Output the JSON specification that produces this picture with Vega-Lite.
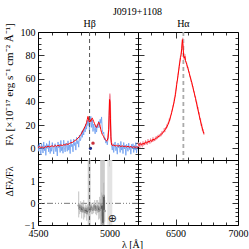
{
"$schema":"https://vega.github.io/schema/vega-lite/v6.json",
"padding":{"left":2,"top":6,"right":0,"bottom":0},
"title":{"text":"J0919+1108","font":"Liberation Serif","fontSize":10,"fontWeight":"normal","anchor":"middle","dx":12,"offset":2,"color":"#000"},
"resolve":{"scale":{"color":"independent"}},
"datasets":{
"blueL":[{"lam":4500,"F":3.0},{"lam":4505,"F":-2.5},{"lam":4510,"F":4.5},{"lam":4515,"F":-1.0},{"lam":4520,"F":-5.5},{"lam":4525,"F":3.8},{"lam":4530,"F":1.2},{"lam":4535,"F":-4.0},{"lam":4540,"F":5.5},{"lam":4545,"F":-2.0},{"lam":4550,"F":2.5},{"lam":4555,"F":-6.0},{"lam":4560,"F":4.2},{"lam":4565,"F":0.0},{"lam":4570,"F":3.2},{"lam":4575,"F":-3.0},{"lam":4580,"F":6.5},{"lam":4585,"F":-4.5},{"lam":4590,"F":1.0},{"lam":4595,"F":-2.5},{"lam":4600,"F":5.0},{"lam":4605,"F":-0.5},{"lam":4610,"F":-4.8},{"lam":4615,"F":2.8},{"lam":4620,"F":4.0},{"lam":4625,"F":-2.8},{"lam":4630,"F":2.0},{"lam":4635,"F":-6.5},{"lam":4640,"F":5.5},{"lam":4645,"F":0.5},{"lam":4650,"F":3.5},{"lam":4655,"F":-3.5},{"lam":4660,"F":6.8},{"lam":4665,"F":-2.0},{"lam":4670,"F":1.5},{"lam":4675,"F":-4.2},{"lam":4680,"F":7.0},{"lam":4685,"F":0.8},{"lam":4690,"F":-3.0},{"lam":4695,"F":4.5},{"lam":4700,"F":2.0},{"lam":4705,"F":-2.5},{"lam":4710,"F":6.5},{"lam":4715,"F":-1.5},{"lam":4720,"F":3.0},{"lam":4725,"F":-4.5},{"lam":4730,"F":7.5},{"lam":4735,"F":1.5},{"lam":4740,"F":3.5},{"lam":4745,"F":-3.0},{"lam":4750,"F":8.0},{"lam":4755,"F":2.5},{"lam":4760,"F":5.0},{"lam":4765,"F":-1.5},{"lam":4770,"F":9.5},{"lam":4775,"F":4.0},{"lam":4780,"F":6.5},{"lam":4785,"F":1.0},{"lam":4790,"F":11.5},{"lam":4795,"F":6.5},{"lam":4800,"F":8.0},{"lam":4805,"F":14.5},{"lam":4810,"F":9.5},{"lam":4815,"F":16.0},{"lam":4820,"F":11.5},{"lam":4825,"F":18.5},{"lam":4830,"F":14.0},{"lam":4835,"F":21.0},{"lam":4840,"F":16.5},{"lam":4845,"F":24.0},{"lam":4850,"F":19.5},{"lam":4855,"F":26.5},{"lam":4860,"F":15.0},{"lam":4865,"F":22.5},{"lam":4870,"F":27.5},{"lam":4875,"F":18.0},{"lam":4880,"F":24.5},{"lam":4885,"F":14.5},{"lam":4890,"F":21.0},{"lam":4895,"F":17.0},{"lam":4900,"F":12.5},{"lam":4905,"F":19.5},{"lam":4910,"F":14.0},{"lam":4915,"F":20.5},{"lam":4920,"F":17.5},{"lam":4925,"F":23.5},{"lam":4930,"F":18.0},{"lam":4935,"F":25.0},{"lam":4940,"F":21.5},{"lam":4945,"F":27.0},{"lam":4950,"F":16.0},{"lam":4955,"F":12.5},{"lam":4960,"F":14.0},{"lam":4965,"F":7.5},{"lam":4970,"F":9.0},{"lam":4975,"F":4.5},{"lam":4980,"F":7.0},{"lam":4985,"F":3.0},{"lam":4990,"F":8.5},{"lam":4995,"F":15.0},{"lam":5000,"F":33.0},{"lam":5005,"F":38.0},{"lam":5010,"F":10.0},{"lam":5015,"F":2.5},{"lam":5020,"F":-1.5},{"lam":5025,"F":4.0},{"lam":5030,"F":-3.5},{"lam":5035,"F":3.0},{"lam":5040,"F":5.5},{"lam":5045,"F":-2.0},{"lam":5050,"F":1.5},{"lam":5055,"F":-5.0},{"lam":5060,"F":4.5},{"lam":5065,"F":0.5},{"lam":5070,"F":3.0},{"lam":5075,"F":-3.5},{"lam":5080,"F":6.0},{"lam":5085,"F":-1.5},{"lam":5090,"F":2.0},{"lam":5095,"F":-4.5},{"lam":5100,"F":5.0},{"lam":5105,"F":-0.5},{"lam":5110,"F":2.5},{"lam":5115,"F":-6.0},{"lam":5120,"F":3.5},{"lam":5125,"F":1.0},{"lam":5130,"F":-2.5},{"lam":5135,"F":4.5},{"lam":5140,"F":-1.0},{"lam":5145,"F":2.0},{"lam":5150,"F":-5.0},{"lam":5155,"F":3.5},{"lam":5160,"F":0.0},{"lam":5165,"F":4.0},{"lam":5170,"F":-3.5},{"lam":5175,"F":2.5},{"lam":5180,"F":-1.5},{"lam":5185,"F":5.0},{"lam":5190,"F":-4.0},{"lam":5195,"F":2.0},{"lam":5200,"F":0.5}],
"redL":[{"lam":4500,"F":0.5},{"lam":4510,"F":1.5},{"lam":4520,"F":0.8},{"lam":4530,"F":1.2},{"lam":4540,"F":0.2},{"lam":4550,"F":1.5},{"lam":4560,"F":1.0},{"lam":4570,"F":2.0},{"lam":4580,"F":1.2},{"lam":4590,"F":1.8},{"lam":4600,"F":2.2},{"lam":4610,"F":1.4},{"lam":4620,"F":2.5},{"lam":4630,"F":1.8},{"lam":4640,"F":2.6},{"lam":4650,"F":2.0},{"lam":4660,"F":3.0},{"lam":4670,"F":2.4},{"lam":4680,"F":3.2},{"lam":4690,"F":2.8},{"lam":4700,"F":3.8},{"lam":4710,"F":3.4},{"lam":4720,"F":4.2},{"lam":4730,"F":4.8},{"lam":4740,"F":5.0},{"lam":4750,"F":6.0},{"lam":4760,"F":6.8},{"lam":4770,"F":7.5},{"lam":4780,"F":9.0},{"lam":4790,"F":10.0},{"lam":4800,"F":12.0},{"lam":4810,"F":14.0},{"lam":4820,"F":16.5},{"lam":4830,"F":19.0},{"lam":4840,"F":22.0},{"lam":4845,"F":25},{"lam":4850,"F":27.5},{"lam":4855,"F":24},{"lam":4860,"F":22.5},{"lam":4865,"F":24.5},{"lam":4870,"F":23},{"lam":4875,"F":25.5},{"lam":4880,"F":26},{"lam":4885,"F":24.5},{"lam":4890,"F":23},{"lam":4895,"F":21.5},{"lam":4900,"F":20},{"lam":4905,"F":18.5},{"lam":4910,"F":18},{"lam":4915,"F":19.5},{"lam":4920,"F":21},{"lam":4925,"F":22.5},{"lam":4930,"F":21.5},{"lam":4935,"F":19},{"lam":4940,"F":16},{"lam":4945,"F":13.5},{"lam":4950,"F":12},{"lam":4955,"F":11},{"lam":4960,"F":10},{"lam":4965,"F":8.5},{"lam":4970,"F":7.5},{"lam":4975,"F":7},{"lam":4980,"F":6.5},{"lam":4985,"F":7},{"lam":4990,"F":9},{"lam":4995,"F":16},{"lam":4998,"F":28},{"lam":5001,"F":42},{"lam":5004,"F":40},{"lam":5007,"F":26},{"lam":5010,"F":10},{"lam":5013,"F":5},{"lam":5016,"F":3},{"lam":5020,"F":2.5},{"lam":5030,"F":2.8},{"lam":5040,"F":2.0},{"lam":5050,"F":2.6},{"lam":5060,"F":1.8},{"lam":5070,"F":2.4},{"lam":5080,"F":1.6},{"lam":5090,"F":2.2},{"lam":5100,"F":1.5},{"lam":5110,"F":2.0},{"lam":5120,"F":1.2},{"lam":5130,"F":1.8},{"lam":5140,"F":1.0},{"lam":5150,"F":1.6},{"lam":5160,"F":0.8},{"lam":5170,"F":1.4},{"lam":5180,"F":0.9},{"lam":5190,"F":1.2},{"lam":5200,"F":0.8}],
"oiii":[{"lam":4985,"F":6},{"lam":4990,"F":9},{"lam":4995,"F":18},{"lam":4998,"F":30},{"lam":5001,"F":44},{"lam":5003,"F":47},{"lam":5005,"F":45},{"lam":5007,"F":35},{"lam":5009,"F":20},{"lam":5012,"F":8},{"lam":5016,"F":4},{"lam":5020,"F":3}],
"dots":[{"lam":4867,"F":0,"kind":"a"},{"lam":4885,"F":4.5,"kind":"b"}],
"pinkR":[{"lam":6200,"F":5.5},{"lam":6205,"F":1.5},{"lam":6210,"F":4.0},{"lam":6215,"F":0.5},{"lam":6220,"F":5.5},{"lam":6225,"F":2.0},{"lam":6230,"F":4.5},{"lam":6235,"F":1.0},{"lam":6240,"F":6.0},{"lam":6245,"F":2.5},{"lam":6250,"F":5.0},{"lam":6255,"F":3.0},{"lam":6260,"F":7.0},{"lam":6265,"F":3.5},{"lam":6270,"F":6.0},{"lam":6275,"F":3.0},{"lam":6280,"F":8.0},{"lam":6285,"F":4.5},{"lam":6290,"F":6.5},{"lam":6295,"F":4.0},{"lam":6300,"F":8.5},{"lam":6305,"F":5.0},{"lam":6310,"F":7.5},{"lam":6315,"F":5.5},{"lam":6320,"F":9.5},{"lam":6325,"F":6.0},{"lam":6330,"F":8.5},{"lam":6335,"F":6.5},{"lam":6340,"F":10.0},{"lam":6345,"F":7.5},{"lam":6350,"F":10.5},{"lam":6355,"F":8.0},{"lam":6360,"F":11.5},{"lam":6365,"F":9.0},{"lam":6370,"F":12.0},{"lam":6375,"F":10.0},{"lam":6380,"F":13.0},{"lam":6385,"F":10.5},{"lam":6390,"F":14.5},{"lam":6395,"F":12.0},{"lam":6400,"F":15.0},{"lam":6405,"F":13.5},{"lam":6410,"F":17.5},{"lam":6415,"F":14.0},{"lam":6420,"F":18.0},{"lam":6425,"F":16.5},{"lam":6430,"F":20.5},{"lam":6435,"F":18.0},{"lam":6440,"F":22.0},{"lam":6445,"F":21.0},{"lam":6450,"F":25.5},{"lam":6455,"F":24.0},{"lam":6460,"F":28.5},{"lam":6465,"F":29.0},{"lam":6470,"F":32.5},{"lam":6475,"F":34.0},{"lam":6480,"F":37.5},{"lam":6485,"F":38.0},{"lam":6490,"F":43.0},{"lam":6495,"F":44.5},{"lam":6500,"F":49.0},{"lam":6505,"F":52.0},{"lam":6510,"F":57.5},{"lam":6515,"F":58.0},{"lam":6520,"F":64.0},{"lam":6525,"F":67.0},{"lam":6530,"F":72.0},{"lam":6535,"F":76.0},{"lam":6540,"F":79.5},{"lam":6545,"F":82.0},{"lam":6550,"F":87.0},{"lam":6555,"F":92.0},{"lam":6558,"F":95.0},{"lam":6561,"F":86.0},{"lam":6565,"F":82.0},{"lam":6570,"F":76.0},{"lam":6575,"F":81.0},{"lam":6580,"F":75.5},{"lam":6585,"F":74.0},{"lam":6590,"F":73.5},{"lam":6595,"F":69.0},{"lam":6600,"F":70.0},{"lam":6605,"F":65.5},{"lam":6610,"F":66.0},{"lam":6615,"F":61.0},{"lam":6620,"F":61.5},{"lam":6625,"F":57.0},{"lam":6630,"F":57.5},{"lam":6635,"F":53.0},{"lam":6640,"F":53.5},{"lam":6645,"F":48.5},{"lam":6650,"F":49.0},{"lam":6655,"F":44.0},{"lam":6660,"F":44.5},{"lam":6665,"F":39.5},{"lam":6670,"F":40.0},{"lam":6675,"F":34.0},{"lam":6680,"F":35.5},{"lam":6685,"F":29.5},{"lam":6690,"F":31.0},{"lam":6695,"F":24.5},{"lam":6700,"F":26.0},{"lam":6705,"F":19.5},{"lam":6710,"F":21.0},{"lam":6715,"F":15.0},{"lam":6720,"F":16.5},{"lam":6725,"F":12.0},{"lam":6730,"F":14.0}],
"redR":[{"lam":6200,"F":3.5},{"lam":6210,"F":2.5},{"lam":6220,"F":4.0},{"lam":6230,"F":3.0},{"lam":6240,"F":4.5},{"lam":6250,"F":3.5},{"lam":6260,"F":5.5},{"lam":6270,"F":4.5},{"lam":6280,"F":6.0},{"lam":6290,"F":5.5},{"lam":6300,"F":7.0},{"lam":6310,"F":6.0},{"lam":6320,"F":8.0},{"lam":6330,"F":7.0},{"lam":6340,"F":8.5},{"lam":6350,"F":9.0},{"lam":6360,"F":10.0},{"lam":6370,"F":10.5},{"lam":6380,"F":11.5},{"lam":6390,"F":12.5},{"lam":6400,"F":13.5},{"lam":6410,"F":15.0},{"lam":6420,"F":16.5},{"lam":6430,"F":18.5},{"lam":6440,"F":20.5},{"lam":6450,"F":23.5},{"lam":6460,"F":27.0},{"lam":6470,"F":31.0},{"lam":6480,"F":35.5},{"lam":6490,"F":40.5},{"lam":6500,"F":46.5},{"lam":6510,"F":55.0},{"lam":6520,"F":62.5},{"lam":6530,"F":70.5},{"lam":6540,"F":78.0},{"lam":6545,"F":80.5},{"lam":6550,"F":86.0},{"lam":6555,"F":93.5},{"lam":6560,"F":88.0},{"lam":6565,"F":79.0},{"lam":6570,"F":77.5},{"lam":6575,"F":79.0},{"lam":6580,"F":75.5},{"lam":6590,"F":72.0},{"lam":6600,"F":68.5},{"lam":6610,"F":64.5},{"lam":6620,"F":60.5},{"lam":6630,"F":56.5},{"lam":6640,"F":52.0},{"lam":6650,"F":47.5},{"lam":6660,"F":43.0},{"lam":6670,"F":38.0},{"lam":6680,"F":33.0},{"lam":6690,"F":28.0},{"lam":6700,"F":23.5},{"lam":6710,"F":19.0},{"lam":6720,"F":15.0},{"lam":6725,"F":13.0},{"lam":6730,"F":12.5}],
"res":[{"lam":4785,"v":-0.10,"lo":-0.65,"hi":0.55},{"lam":4792,"v":-0.25,"lo":-0.50,"hi":0.00},{"lam":4799,"v":-0.15,"lo":-0.40,"hi":0.10},{"lam":4806,"v":-0.35,"lo":-0.70,"hi":0.00},{"lam":4813,"v":-0.20,"lo":-0.45,"hi":0.05},{"lam":4820,"v":-0.30,"lo":-0.75,"hi":0.15},{"lam":4827,"v":-0.40,"lo":-0.65,"hi":-0.15},{"lam":4834,"v":-0.25,"lo":-0.45,"hi":-0.05},{"lam":4841,"v":-0.45,"lo":-0.80,"hi":-0.10},{"lam":4848,"v":-0.30,"lo":-0.55,"hi":-0.05},{"lam":4855,"v":-0.20,"lo":-0.40,"hi":0.00},{"lam":4862,"v":-0.35,"lo":-0.60,"hi":-0.10},{"lam":4869,"v":-0.15,"lo":-0.35,"hi":0.05},{"lam":4876,"v":-0.25,"lo":-0.50,"hi":0.00},{"lam":4883,"v":-0.30,"lo":-0.50,"hi":-0.10},{"lam":4890,"v":-0.20,"lo":-0.45,"hi":0.05},{"lam":4897,"v":-0.10,"lo":-0.35,"hi":0.15},{"lam":4904,"v":-0.30,"lo":-0.50,"hi":-0.10},{"lam":4911,"v":-0.20,"lo":-0.55,"hi":0.15},{"lam":4918,"v":-0.15,"lo":-0.45,"hi":0.15},{"lam":4925,"v":-0.35,"lo":-0.75,"hi":0.05},{"lam":4932,"v":-0.20,"lo":-0.70,"hi":0.30},{"lam":4939,"v":-0.30,"lo":-0.80,"hi":0.20},{"lam":4946,"v":-0.05,"lo":-0.60,"hi":0.50},{"lam":4953,"v":-0.95,"lo":-1.00,"hi":-0.45},{"lam":4960,"v":0.35,"lo":-0.25,"hi":0.95},{"lam":4967,"v":-0.35,"lo":-0.85,"hi":0.15}],
"bands":[{"a":4848,"b":4868,"shade":"line"},{"a":4935,"b":4968,"shade":"line"},{"a":4985,"b":5020,"shade":"telluric"}],
"frameBR":[{"lam":6200,"d":-1},{"lam":7000,"d":2}]
},
"concat":[
{"width":100,"height":128,
 "resolve":{"axis":{"x":"independent","y":"independent"}},
 "layer":[
  {"data":{"name":"blueL"},"mark":{"type":"line","color":"#6a9cf0","strokeWidth":0.8},
   "encoding":{
    "x":{"field":"lam","type":"quantitative","scale":{"domain":[4500,5200],"nice":false,"zero":false},"axis":{"orient":"bottom","values":[4500,5000],"tickSize":-6,"labels":false,"title":null}},
    "y":{"field":"F","type":"quantitative","scale":{"domain":[-10,100],"nice":false,"zero":false},"axis":{"orient":"left","values":[0,20,40,60,80,100],"tickSize":-6,"labelPadding":9,"format":"d","title":"Fλ [×10⁻¹⁷ erg s⁻¹ cm⁻² Å⁻¹]","titleFontSize":11,"titleX":-29,"titleY":52,"titleAlign":"center","titleBaseline":"middle","titleAngle":270}}}},
  {"data":{"name":"oiii"},"mark":{"type":"line","color":"#f2899b","strokeWidth":1.2},
   "encoding":{
    "x":{"field":"lam","type":"quantitative","scale":{"domain":[4500,5200],"nice":false,"zero":false},"axis":{"orient":"bottom","values":[4600,4700,4800,4900,5100],"tickSize":-3,"labels":false,"title":null}},
    "y":{"field":"F","type":"quantitative","scale":{"domain":[-10,100],"nice":false,"zero":false},"axis":{"orient":"left","values":[-5,5,10,15,25,30,35,45,50,55,65,70,75,85,90,95],"tickSize":-3,"labels":false,"title":null}}}},
  {"data":{"name":"redL"},"mark":{"type":"line","color":"#ff0000","strokeWidth":1},
   "encoding":{
    "x":{"field":"lam","type":"quantitative","scale":{"domain":[4500,5200],"nice":false,"zero":false},"axis":{"orient":"top","values":[4500,5000],"tickSize":-6,"labels":false,"title":null}},
    "y":{"field":"F","type":"quantitative","scale":{"domain":[-10,100],"nice":false,"zero":false},"axis":{"orient":"right","values":[0,20,40,60,80],"tickSize":-6,"labels":false,"title":null}}}},
  {"data":{"name":"dots"},"mark":{"type":"point","filled":true,"size":12,"opacity":1},
   "encoding":{
    "x":{"field":"lam","type":"quantitative","scale":{"domain":[4500,5200],"nice":false,"zero":false},"axis":{"orient":"top","values":[4600,4700,4800,4900,5100],"tickSize":-3,"labels":false,"title":null}},
    "y":{"field":"F","type":"quantitative","scale":{"domain":[-10,100],"nice":false,"zero":false},"axis":{"orient":"right","values":[-5,5,10,15,25,30,35,45,50,55,65,70,75,85,90,95],"tickSize":-3,"labels":false,"title":null}},
    "color":{"field":"kind","type":"nominal","scale":{"domain":["a","b"],"range":["#1c2a8a","#c8303a"]},"legend":null}}},
  {"data":{"values":[{"name":"Hβ","lam":4861}]},"mark":{"type":"rule","color":"#555","strokeDash":[4,3],"strokeWidth":1},
   "encoding":{"x":{"field":"lam","type":"quantitative","scale":{"domain":[4500,5200],"nice":false,"zero":false},"axis":null}}},
  {"data":{"values":[{"name":"Hβ","lam":4861}]},"mark":{"type":"text","font":"Liberation Serif","fontSize":10,"baseline":"bottom","dy":-3,"color":"#000"},
   "encoding":{"x":{"field":"lam","type":"quantitative","scale":{"domain":[4500,5200],"nice":false,"zero":false},"axis":null},
    "y":{"datum":100,"type":"quantitative","scale":{"domain":[-10,100],"nice":false,"zero":false},"axis":null},
    "text":{"field":"name"}}}
 ]},
{"width":100,"height":128,
 "resolve":{"axis":{"x":"independent","y":"independent"}},
 "layer":[
  {"data":{"values":[{"name":"Hα","lam":6563}]},"mark":{"type":"rule","color":"#aaaaaa","strokeDash":[4,3],"strokeWidth":1.8},
   "encoding":{"x":{"field":"lam","type":"quantitative","scale":{"domain":[6200,7000],"nice":false,"zero":false},"axis":null}}},
  {"data":{"name":"pinkR"},"mark":{"type":"line","color":"#f59aa8","strokeWidth":1},
   "encoding":{
    "x":{"field":"lam","type":"quantitative","scale":{"domain":[6200,7000],"nice":false,"zero":false},"axis":{"orient":"bottom","values":[6500,7000],"tickSize":-6,"labels":false,"title":null}},
    "y":{"field":"F","type":"quantitative","scale":{"domain":[-10,100],"nice":false,"zero":false},"axis":{"orient":"left","values":[0,20,40,60,80],"tickSize":-6,"labels":false,"title":null}}}},
  {"data":{"name":"redR"},"mark":{"type":"line","color":"#ff0000","strokeWidth":1},
   "encoding":{
    "x":{"field":"lam","type":"quantitative","scale":{"domain":[6200,7000],"nice":false,"zero":false},"axis":{"orient":"bottom","values":[6300,6400,6600,6700,6800,6900],"tickSize":-3,"labels":false,"title":null}},
    "y":{"field":"F","type":"quantitative","scale":{"domain":[-10,100],"nice":false,"zero":false},"axis":{"orient":"left","values":[-5,5,10,15,25,30,35,45,50,55,65,70,75,85,90,95],"tickSize":-3,"labels":false,"title":null}}}},
  {"data":{"name":"redR"},"mark":{"type":"point","filled":true,"size":1,"opacity":0,"strokeWidth":0},
   "encoding":{
    "x":{"field":"lam","type":"quantitative","scale":{"domain":[6200,7000],"nice":false,"zero":false},"axis":{"orient":"top","values":[6500,7000],"tickSize":-6,"labels":false,"title":null}},
    "y":{"field":"F","type":"quantitative","scale":{"domain":[-10,100],"nice":false,"zero":false},"axis":{"orient":"right","values":[0,20,40,60,80],"tickSize":-6,"labels":false,"title":null}}}},
  {"data":{"name":"redR"},"mark":{"type":"point","filled":true,"size":1,"opacity":0,"strokeWidth":0},
   "encoding":{
    "x":{"field":"lam","type":"quantitative","scale":{"domain":[6200,7000],"nice":false,"zero":false},"axis":{"orient":"top","values":[6300,6400,6600,6700,6800,6900],"tickSize":-3,"labels":false,"title":null}},
    "y":{"field":"F","type":"quantitative","scale":{"domain":[-10,100],"nice":false,"zero":false},"axis":{"orient":"right","values":[-5,5,10,15,25,30,35,45,50,55,65,70,75,85,90,95],"tickSize":-3,"labels":false,"title":null}}}},
  {"data":{"values":[{"name":"Hα","lam":6563}]},"mark":{"type":"text","font":"Liberation Serif","fontSize":10,"baseline":"bottom","dy":-3,"color":"#000"},
   "encoding":{"x":{"field":"lam","type":"quantitative","scale":{"domain":[6200,7000],"nice":false,"zero":false},"axis":null},
    "y":{"datum":100,"type":"quantitative","scale":{"domain":[-10,100],"nice":false,"zero":false},"axis":null},
    "text":{"field":"name"}}}
 ]},
{"width":100,"height":65,
 "resolve":{"axis":{"x":"independent","y":"independent"}},
 "layer":[
  {"data":{"name":"bands"},"mark":{"type":"rect","opacity":0.9},
   "encoding":{"x":{"field":"a","type":"quantitative","scale":{"domain":[4500,5200],"nice":false,"zero":false},"axis":null},
    "x2":{"field":"b"},
    "y":{"datum":-1,"type":"quantitative","scale":{"domain":[-1,2],"nice":false,"zero":false},"axis":null},
    "y2":{"datum":2},
    "color":{"field":"shade","type":"nominal","scale":{"domain":["line","telluric"],"range":["#c6c6c6","#e0e0e0"]},"legend":null}}},
  {"data":{"values":[{"v":0}]},"mark":{"type":"rule","color":"#777","strokeDash":[6,2,1,2,1,2,1,2],"strokeWidth":1},
   "encoding":{"y":{"field":"v","type":"quantitative","scale":{"domain":[-1,2],"nice":false,"zero":false},"axis":null}}},
  {"data":{"values":[{"name":"Hβ","lam":4861}]},"mark":{"type":"rule","color":"#555","strokeDash":[4,3],"strokeWidth":1},
   "encoding":{"x":{"field":"lam","type":"quantitative","scale":{"domain":[4500,5200],"nice":false,"zero":false},"axis":null}}},
  {"data":{"name":"res"},"mark":{"type":"rule","color":"#b4b4b4","strokeWidth":0.8},
   "encoding":{
    "x":{"field":"lam","type":"quantitative","scale":{"domain":[4500,5200],"nice":false,"zero":false},"axis":{"orient":"top","values":[4500,5000],"tickSize":-6,"labels":false,"title":null}},
    "y":{"field":"lo","type":"quantitative","scale":{"domain":[-1,2],"nice":false,"zero":false},"axis":{"orient":"right","values":[0,1],"tickSize":-6,"labels":false,"title":null}},
    "y2":{"field":"hi"}}},
  {"data":{"name":"res"},"mark":{"type":"line","interpolate":"step","color":"#444","strokeWidth":1},
   "encoding":{
    "x":{"field":"lam","type":"quantitative","scale":{"domain":[4500,5200],"nice":false,"zero":false},"axis":{"orient":"bottom","values":[4600,4700,4800,4900,5100],"tickSize":-3,"labels":false,"title":null}},
    "y":{"field":"v","type":"quantitative","scale":{"domain":[-1,2],"nice":false,"zero":false},"axis":{"orient":"left","values":[-0.8,-0.6,-0.4,-0.2,0.2,0.4,0.6,0.8,1.2,1.4,1.6,1.8],"tickSize":-3,"labels":false,"title":null}}}},
  {"data":{"name":"res"},"mark":{"type":"point","filled":true,"size":6,"color":"#999999","opacity":1},
   "encoding":{
    "x":{"field":"lam","type":"quantitative","scale":{"domain":[4500,5200],"nice":false,"zero":false},"axis":{"orient":"bottom","values":[4500,5000],"tickSize":-6,"labelPadding":9,"format":"d","title":"λ [Å]","titleX":94,"titlePadding":1,"titleAlign":"center"}},
    "y":{"field":"v","type":"quantitative","scale":{"domain":[-1,2],"nice":false,"zero":false},"axis":{"orient":"left","values":[-1,0,1],"tickSize":-6,"labelPadding":9,"format":"d","title":"ΔFλ/Fλ","titleX":-29,"titleY":21,"titleAlign":"center","titleBaseline":"middle","titleAngle":270}}}},
  {"data":{"name":"res"},"mark":{"type":"point","filled":true,"size":1,"opacity":0,"strokeWidth":0},
   "encoding":{
    "x":{"field":"lam","type":"quantitative","scale":{"domain":[4500,5200],"nice":false,"zero":false},"axis":{"orient":"top","values":[4600,4700,4800,4900,5100],"tickSize":-3,"labels":false,"title":null}},
    "y":{"field":"v","type":"quantitative","scale":{"domain":[-1,2],"nice":false,"zero":false},"axis":{"orient":"right","values":[-0.8,-0.6,-0.4,-0.2,0.2,0.4,0.6,0.8,1.2,1.4,1.6,1.8],"tickSize":-3,"labels":false,"title":null}}}},
  {"data":{"values":[{"s":"⊕","lam":5020,"v":-0.72}]},"mark":{"type":"text","fontSize":11,"color":"#222","font":"DejaVu Sans"},
   "encoding":{"x":{"field":"lam","type":"quantitative","scale":{"domain":[4500,5200],"nice":false,"zero":false},"axis":null},
    "y":{"field":"v","type":"quantitative","scale":{"domain":[-1,2],"nice":false,"zero":false},"axis":null},
    "text":{"field":"s"}}}
 ]},
{"width":100,"height":65,
 "resolve":{"axis":{"x":"independent","y":"independent"}},
 "layer":[
  {"data":{"name":"frameBR"},"mark":{"type":"point","filled":true,"size":1,"opacity":0,"strokeWidth":0},
   "encoding":{
    "x":{"field":"lam","type":"quantitative","scale":{"domain":[6200,7000],"nice":false,"zero":false},"axis":{"orient":"bottom","values":[6500,7000],"tickSize":-6,"labelPadding":9,"format":"d","title":null}},
    "y":{"field":"d","type":"quantitative","scale":{"domain":[-1,2],"nice":false,"zero":false},"axis":{"orient":"left","values":[0,1],"tickSize":-6,"labels":false,"title":null}}}},
  {"data":{"name":"frameBR"},"mark":{"type":"point","filled":true,"size":1,"opacity":0,"strokeWidth":0},
   "encoding":{
    "x":{"field":"lam","type":"quantitative","scale":{"domain":[6200,7000],"nice":false,"zero":false},"axis":{"orient":"bottom","values":[6300,6400,6600,6700,6800,6900],"tickSize":-3,"labels":false,"title":null}},
    "y":{"field":"d","type":"quantitative","scale":{"domain":[-1,2],"nice":false,"zero":false},"axis":{"orient":"left","values":[-0.8,-0.6,-0.4,-0.2,0.2,0.4,0.6,0.8,1.2,1.4,1.6,1.8],"tickSize":-3,"labels":false,"title":null}}}},
  {"data":{"name":"frameBR"},"mark":{"type":"point","filled":true,"size":1,"opacity":0,"strokeWidth":0},
   "encoding":{
    "x":{"field":"lam","type":"quantitative","scale":{"domain":[6200,7000],"nice":false,"zero":false},"axis":{"orient":"top","values":[6500,7000],"tickSize":-6,"labels":false,"title":null}},
    "y":{"field":"d","type":"quantitative","scale":{"domain":[-1,2],"nice":false,"zero":false},"axis":{"orient":"right","values":[0,1],"tickSize":-6,"labels":false,"title":null}}}},
  {"data":{"name":"frameBR"},"mark":{"type":"point","filled":true,"size":1,"opacity":0,"strokeWidth":0},
   "encoding":{
    "x":{"field":"lam","type":"quantitative","scale":{"domain":[6200,7000],"nice":false,"zero":false},"axis":{"orient":"top","values":[6300,6400,6600,6700,6800,6900],"tickSize":-3,"labels":false,"title":null}},
    "y":{"field":"d","type":"quantitative","scale":{"domain":[-1,2],"nice":false,"zero":false},"axis":{"orient":"right","values":[-0.8,-0.6,-0.4,-0.2,0.2,0.4,0.6,0.8,1.2,1.4,1.6,1.8],"tickSize":-3,"labels":false,"title":null}}}}
 ]}
],
"columns":2,
"spacing":0,
"bounds":"flush",
"config":{
 "view":{"stroke":"#000","strokeWidth":1},
 "axis":{"grid":false,"domain":false,"tickColor":"#000","tickWidth":0.8,"labelFont":"Liberation Serif","labelFontSize":10,"labelColor":"#000","labelFlush":false,"titleFont":"Liberation Serif","titleFontSize":10,"titleFontWeight":"normal","titleColor":"#000"}
}
}
